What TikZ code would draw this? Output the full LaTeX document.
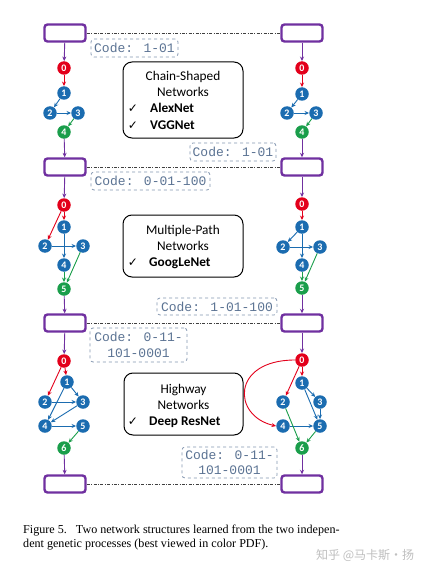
\documentclass[tikz,border=0pt]{standalone}
\usepackage{fontspec}
\setmainfont{Carlito}
\newfontfamily\codefont{Liberation Mono}
\newfontfamily\capfont{Liberation Serif}
\newfontfamily\chkfont{DejaVu Sans}
\newfontfamily\cjkfont{Noto Sans CJK SC}
\usetikzlibrary{arrows.meta,calc}
\definecolor{purp}{HTML}{7030A0}
\definecolor{nred}{HTML}{E3001B}
\definecolor{nblue}{HTML}{1B6CB0}
\definecolor{ngreen}{HTML}{1A9E4B}
\definecolor{codeb}{HTML}{8497B0}
\definecolor{codet}{HTML}{5B7393}
\tikzset{
 netbox/.style={draw=purp, line width=2.4pt, rounded corners=3pt, minimum width=41pt, minimum height=17pt, fill=white, inner sep=0pt},
 nd/.style={circle, minimum size=13.5pt, inner sep=0pt, font=\bfseries\fontsize{10}{10}\selectfont, text=white},
 nr/.style={nd, fill=nred}, nb/.style={nd, fill=nblue}, ng/.style={nd, fill=ngreen},
 ar/.style={line width=0.9pt, -{Stealth[length=4.5pt,width=4pt]}},
 pa/.style={ar, draw=purp}, ra/.style={ar, draw=nred}, ba/.style={ar, draw=nblue}, ga/.style={ar, draw=ngreen},
 link/.style={draw=black!75, line width=0.6pt, dash pattern=on 3pt off 1.5pt on 0.8pt off 1.5pt},
 codebox/.style={draw=codeb, dashed, rounded corners=3pt, line width=0.8pt, text=codet, font=\codefont\fontsize{13}{15.5}\selectfont, align=center, inner sep=0pt},
 descbox/.style={draw=black, line width=1pt, rounded corners=9pt, inner sep=0pt},
 desc/.style={font=\fontsize{13.3}{15}\selectfont, anchor=base, inner sep=0pt},
 dbold/.style={font=\bfseries\fontsize{13.3}{15}\selectfont, anchor=base west, inner sep=0pt},
 chk/.style={font=\chkfont\fontsize{12}{12}\selectfont, anchor=base, inner sep=0pt},
 captxt/.style={font=\capfont\fontsize{12.1}{14}\selectfont, anchor=base west, inner sep=0pt},
}
\begin{document}
\begin{tikzpicture}[x=1pt,y=-1pt]
\useasboundingbox (0,0) rectangle (430,575);
\fill[white] (0,0) rectangle (430,575);
% boxes
\foreach \n/\y in {1/33,2/167,3/323,4/484}{
  \node[netbox] (lb\n) at (65,\y) {};
  \node[netbox] (rb\n) at (302,\y) {};
}
\foreach \n in {1,2,3,4}{ \draw[link] (lb\n.east) -- (rb\n.west); }
% code boxes
\node[codebox, minimum width=87pt, minimum height=18pt] (c1l) at (134.5,48) {Code: 1-01};
\node[codebox, minimum width=86pt, minimum height=18pt] (c1r) at (233,152) {Code: 1-01};
\node[codebox, minimum width=119pt, minimum height=18pt] (c2l) at (150.5,181) {Code: 0-01-100};
\node[codebox, minimum width=120pt, minimum height=17pt] (c2r) at (217,306.5) {Code: 1-01-100};
\node[codebox, minimum width=97pt, minimum height=34pt] (c3l) at (138.5,345) {Code: 0-11-\\101-0001};
\node[codebox, minimum width=95pt, minimum height=31pt] (c3r) at (229.5,462.5) {Code: 0-11-\\101-0001};
% description boxes
\node[descbox, minimum width=120pt, minimum height=76pt] (d1) at (183,100) {};
\node[desc] (d1a) at (183,81) {Chain-Shaped};
\node[desc] (d1b) at (183,97) {Networks};
\node[chk] (d1c) at (133,113) {✓};
\node[dbold] (d1d) at (150,113) {AlexNet};
\node[chk] (d1e) at (133,129) {✓};
\node[dbold] (d1f) at (150,129) {VGGNet};
\node[descbox, minimum width=120pt, minimum height=62pt] (d2) at (183,246) {};
\node[desc] (d2a) at (183,234) {Multiple-Path};
\node[desc] (d2b) at (183,250) {Networks};
\node[chk] (d2c) at (133,266) {✓};
\node[dbold] (d2d) at (149,266) {GoogLeNet};
\node[descbox, minimum width=119pt, minimum height=62pt] (d3) at (183.5,404) {};
\node[desc] (d3a) at (183.5,393) {Highway};
\node[desc] (d3b) at (183.5,409) {Networks};
\node[chk] (d3c) at (133,425) {✓};
\node[dbold] (d3d) at (149,425) {Deep ResNet};
% ---- stage 1 left
\node[nr] (a0) at (64,68) {0};
\node[nb] (a1) at (64,93) {1};
\node[nb] (a2) at (50,113) {2};
\node[nb] (a3) at (78,113) {3};
\node[ng] (a4) at (64,132) {4};
\draw[pa] (lb1) -- (a0); \draw[ra] (a0) -- (a1); \draw[ba] (a1) -- (a2);
\draw[ba] (a2) -- (a3); \draw[ga] (a3) -- (a4); \draw[pa] (a4) -- (lb2);
% ---- stage 1 right
\node[nr] (b0) at (302,68) {0};
\node[nb] (b1) at (302,94) {1};
\node[nb] (b2) at (287,113) {2};
\node[nb] (b3) at (316,113) {3};
\node[ng] (b4) at (302,132) {4};
\draw[pa] (rb1) -- (b0); \draw[ra] (b0) -- (b1); \draw[ba] (b1) -- (b2);
\draw[ba] (b2) -- (b3); \draw[ga] (b3) -- (b4); \draw[pa] (b4) -- (rb2);
% ---- stage 2 left
\node[nr] (e0) at (64,205) {0};
\node[nb] (e1) at (64,227) {1};
\node[nb] (e2) at (45,246) {2};
\node[nb] (e3) at (83,246) {3};
\node[nb] (e4) at (64,265) {4};
\node[ng] (e5) at (64,289) {5};
\draw[pa] (lb2) -- (e0); \draw[ra] (e0) -- (e1); \draw[ra] (e0) -- (e2);
\draw[ba] (e2) -- (e3); \draw[ba] (e1) -- (e4);
\draw[ga] (e4) -- (e5); \draw[ga] (e3) -- (e5); \draw[pa] (e5) -- (lb3);
% ---- stage 2 right
\node[nr] (f0) at (302,204) {0};
\node[nb] (f1) at (302,227) {1};
\node[nb] (f2) at (283,247) {2};
\node[nb] (f3) at (320,247) {3};
\node[nb] (f4) at (302,265) {4};
\node[ng] (f5) at (302,288) {5};
\draw[pa] (rb2) -- (f0); \draw[ra] (f0) -- (f1); \draw[ba] (f1) -- (f2);
\draw[ba] (f2) -- (f3); \draw[ba] (f1) -- (f4);
\draw[ga] (f4) -- (f5); \draw[ga] (f3) -- (f5); \draw[pa] (f5) -- (rb3);
% ---- stage 3 left
\node[nr] (g0) at (64,361) {0};
\node[nb] (g1) at (67,382) {1};
\node[nb] (g2) at (45,402) {2};
\node[nb] (g3) at (83,402) {3};
\node[nb] (g4) at (45,426) {4};
\node[nb] (g5) at (83,426) {5};
\node[ng] (g6) at (64,448) {6};
\draw[pa] (lb3) -- (g0); \draw[ra] (g0) -- (g1); \draw[ra] (g0) -- (g2);
\draw[ba] (g1) -- (g3); \draw[ba] (g2) -- (g3); \draw[ba] (g1) -- (g4);
\draw[ba] (g3) -- (g4); \draw[ba] (g4) -- (g5);
\draw[ga] (g5) -- (g6); \draw[pa] (g6) -- (lb4);
% ---- stage 3 right
\node[nr] (h0) at (302,360) {0};
\node[nb] (h1) at (302,383) {1};
\node[nb] (h2) at (283,402) {2};
\node[nb] (h3) at (320,402) {3};
\node[nb] (h4) at (283,426) {4};
\node[nb] (h5) at (320,426) {5};
\node[ng] (h6) at (302,448) {6};
\draw[pa] (rb3) -- (h0); \draw[ra] (h0) -- (h1); \draw[ra] (h0) -- (h2);
\draw[ra] (h0.west) .. controls +(-64,0) and +(-44,-10) .. (h4.west);
\draw[ba] (h1) -- (h3); \draw[ba] (h1) -- (h5); \draw[ba] (h3) -- (h5);
\draw[ba] (h4) -- (h5);
\draw[ga] (h2) -- (h6); \draw[ga] (h5) -- (h6); \draw[pa] (h6) -- (rb4);
% caption
\node[captxt] (cap1) at (23,533) {Figure 5.\ \ \ Two network structures learned from the two indepen-};
\node[captxt] (cap2) at (23,547) {dent genetic processes (best viewed in color PDF).};
\node[font=\cjkfont\fontsize{12}{14}\selectfont, text=black!25, anchor=base west, inner sep=0pt] (wm) at (316,559) {知乎 @马卡斯·扬};
\end{tikzpicture}
\end{document}
